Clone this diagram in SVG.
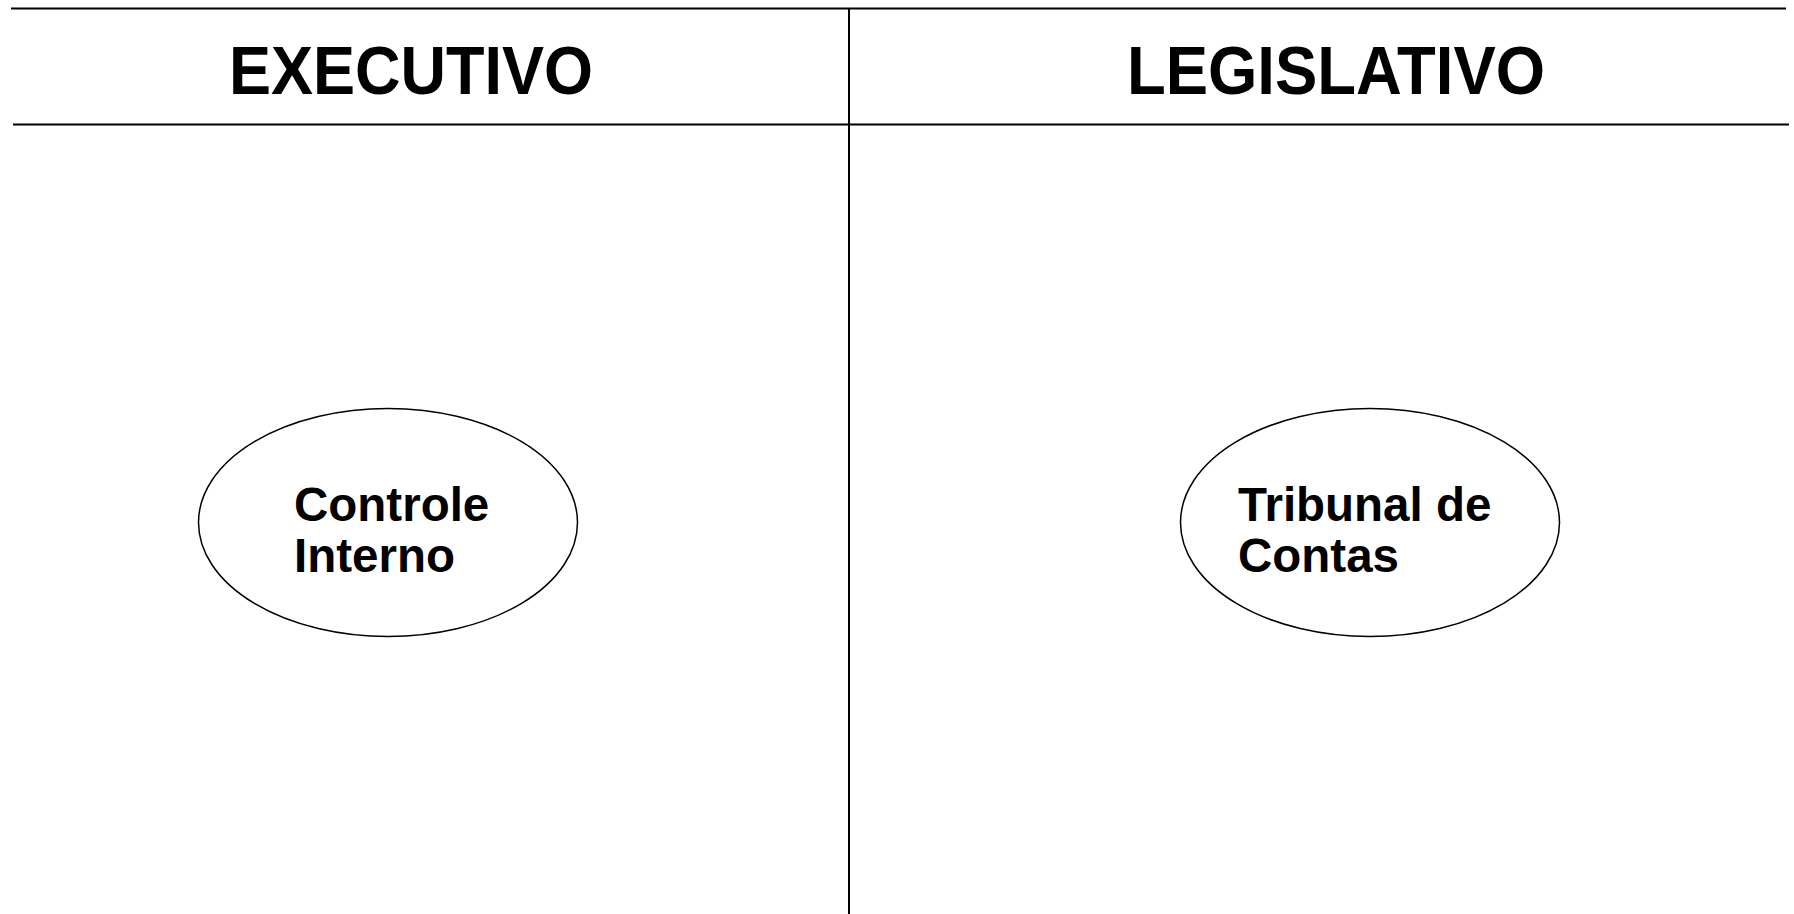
<svg xmlns="http://www.w3.org/2000/svg" width="1794" height="914" viewBox="0 0 1794 914">
<style>
.hdr{font-family:"Liberation Sans",Arial,sans-serif;font-weight:bold;font-size:68px;fill:#000;text-anchor:middle}
.lbl{font-family:"Liberation Sans",Arial,sans-serif;font-weight:bold;font-size:47.5px;fill:#000}
.ln{stroke:#000;stroke-width:2;fill:none}
.el{stroke:#000;stroke-width:1.5;fill:#fff}
</style>
<rect width="1794" height="914" fill="#fff"/>
<g id="connectors">
<line class="ln" x1="11" y1="8.5" x2="1786" y2="8.5"/>
<line class="ln" x1="13" y1="124.5" x2="1789" y2="124.5"/>
<line class="ln" x1="849" y1="8" x2="849" y2="914"/>
</g>
<g id="header-executivo">
<text class="hdr" x="411" y="94" textLength="364" lengthAdjust="spacingAndGlyphs">EXECUTIVO</text>
</g>
<g id="header-legislativo">
<text class="hdr" x="1336" y="94" textLength="418" lengthAdjust="spacingAndGlyphs">LEGISLATIVO</text>
</g>
<g id="node-controle-interno">
<ellipse class="el" cx="388" cy="522.5" rx="189.5" ry="114"/>
<text class="lbl" x="294" y="521">Controle</text>
<text class="lbl" x="294" y="572">Interno</text>
</g>
<g id="node-tribunal-de-contas">
<ellipse class="el" cx="1370" cy="522.5" rx="189.5" ry="114"/>
<text class="lbl" x="1238" y="521">Tribunal de</text>
<text class="lbl" x="1238" y="572">Contas</text>
</g>
</svg>
